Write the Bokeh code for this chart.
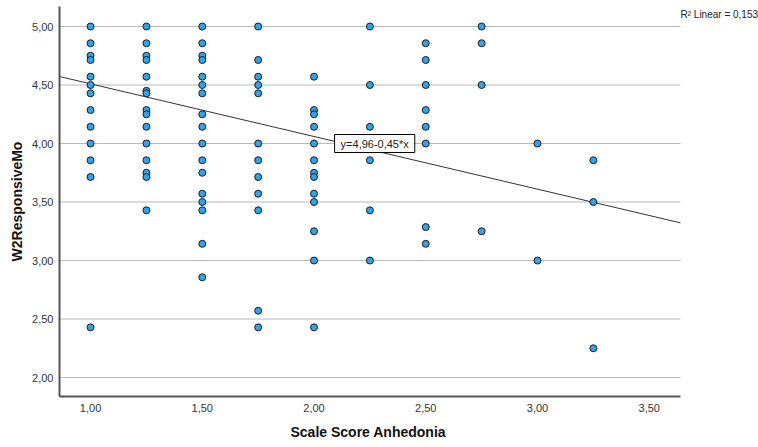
from bokeh.plotting import figure
from bokeh.models import FixedTicker, Label, Range1d, ColumnDataSource, Title
from bokeh.embed import file_html
from bokeh.resources import INLINE

# ---- data ----
col_100 = [5.0, 4.857, 4.75, 4.714, 4.571, 4.5, 4.429, 4.286, 4.143, 4.0, 3.857, 3.714, 2.429]
col_125 = [5.0, 4.857, 4.75, 4.714, 4.571, 4.45, 4.429, 4.286, 4.25, 4.143, 4.0, 3.857, 3.75, 3.714, 3.429]
col_150 = [5.0, 4.857, 4.75, 4.714, 4.571, 4.5, 4.429, 4.25, 4.143, 4.0, 3.857, 3.75, 3.571, 3.5, 3.429, 3.143, 2.857]
col_175 = [5.0, 4.714, 4.571, 4.5, 4.429, 4.0, 3.857, 3.714, 3.571, 3.429, 2.571, 2.429]
col_200 = [4.571, 4.286, 4.25, 4.143, 4.0, 3.857, 3.75, 3.714, 3.571, 3.5, 3.25, 3.0, 2.429]
col_225 = [5.0, 4.5, 4.143, 3.857, 3.429, 3.0]
col_250 = [4.857, 4.714, 4.5, 4.286, 4.143, 4.0, 3.286, 3.143]
col_275 = [5.0, 4.857, 4.5, 3.25]
col_300 = [4.0, 3.0]
col_325 = [3.857, 3.5, 2.25]

anhedonia_levels = [1.00, 1.25, 1.50, 1.75, 2.00, 2.25, 2.50, 2.75, 3.00, 3.25]
responsive_cols = [col_100, col_125, col_150, col_175, col_200, col_225, col_250, col_275, col_300, col_325]

fit_intercept = 4.96
fit_slope = -0.45
r2_text = "R\u00b2 Linear = 0,153"
eq_text = "y=4,96-0,45*x"
x_title = "Scale Score Anhedonia"
y_title = "W2ResponsiveMo"

x_ticks = [1.0, 1.5, 2.0, 2.5, 3.0, 3.5]
x_tick_labels = ["1,00", "1,50", "2,00", "2,50", "3,00", "3,50"]
y_ticks = [2.0, 2.5, 3.0, 3.5, 4.0, 4.5, 5.0]
y_tick_labels = ["2,00", "2,50", "3,00", "3,50", "4,00", "4,50", "5,00"]

xs, ys = [], []
for lvl, col in zip(anhedonia_levels, responsive_cols):
    for v in col:
        xs.append(lvl)
        ys.append(v)

# visible axis extent, and the full frame (extra room on the right for the R² note)
X0, X1 = 0.861, 3.64
XF = 3.989
Y0, Y1 = 1.838, 5.171

FONT = "Liberation Sans"

p = figure(width=758, height=447, output_backend="svg", toolbar_location=None,
           x_range=Range1d(X0, XF), y_range=Range1d(Y0, Y1),
           min_border_left=59, min_border_right=0, min_border_top=6, min_border_bottom=51)
p.outline_line_color = None
p.background_fill_color = "white"
p.border_fill_color = "white"

p.xgrid.grid_line_color = None
p.ygrid.grid_line_color = None

# horizontal grid lines limited to the visible axis extent
p.segment(x0=[X0] * len(y_ticks), x1=[X1] * len(y_ticks), y0=y_ticks, y1=y_ticks,
          line_color="#b8b8b8", line_width=1)

p.xaxis.ticker = FixedTicker(ticks=x_ticks)
p.yaxis.ticker = FixedTicker(ticks=y_ticks)
p.xaxis.major_label_overrides = dict(zip(x_ticks, x_tick_labels))
p.yaxis.major_label_overrides = dict(zip(y_ticks, y_tick_labels))
p.xaxis.bounds = (X0, X1)

for ax in (p.xaxis, p.yaxis):
    ax.axis_line_color = "#555555"
    ax.axis_line_width = 2
    ax.major_tick_line_color = None
    ax.minor_tick_line_color = None
    ax.major_label_text_font = FONT
    ax.major_label_text_font_size = "11px"
    ax.major_label_text_color = "#333333"
    ax.axis_label_text_font = FONT
    ax.axis_label_text_font_size = "14px"
    ax.axis_label_text_font_style = "bold"
    ax.axis_label_text_color = "#111111"

p.yaxis.axis_label = y_title
p.xaxis.major_label_standoff = 1
p.yaxis.major_label_standoff = 0
p.yaxis.axis_label_standoff = 4

# x-axis title, centred under the visible axis (not the whole frame)
p.add_layout(Title(text=x_title, align="left", offset=231, standoff=14,
                   text_font=FONT, text_font_size="14px", text_font_style="bold",
                   text_color="#111111"), "below")

# regression line across the visible x range
p.line([X0, X1], [fit_intercept + fit_slope * X0, fit_intercept + fit_slope * X1],
       line_color="#333333", line_width=1)

src = ColumnDataSource(data=dict(x=xs, y=ys))
p.scatter("x", "y", source=src, size=7, fill_color="#2ea3f2", line_color="#1c1c1c", line_width=1)

p.add_layout(Label(x=2.092, y=4.0, text=eq_text, text_baseline="middle",
                   text_font=FONT, text_font_size="11px", text_color="#222222",
                   background_fill_color="white", border_line_color="black", border_line_width=1,
                   padding=(6, 3)))

p.add_layout(Label(x=X1, y=Y1, y_offset=-8, text=r2_text, text_baseline="middle",
                   text_font=FONT, text_font_size="10px", text_color="#222222"))

open("out.html", "w").write(file_html(p, INLINE))
